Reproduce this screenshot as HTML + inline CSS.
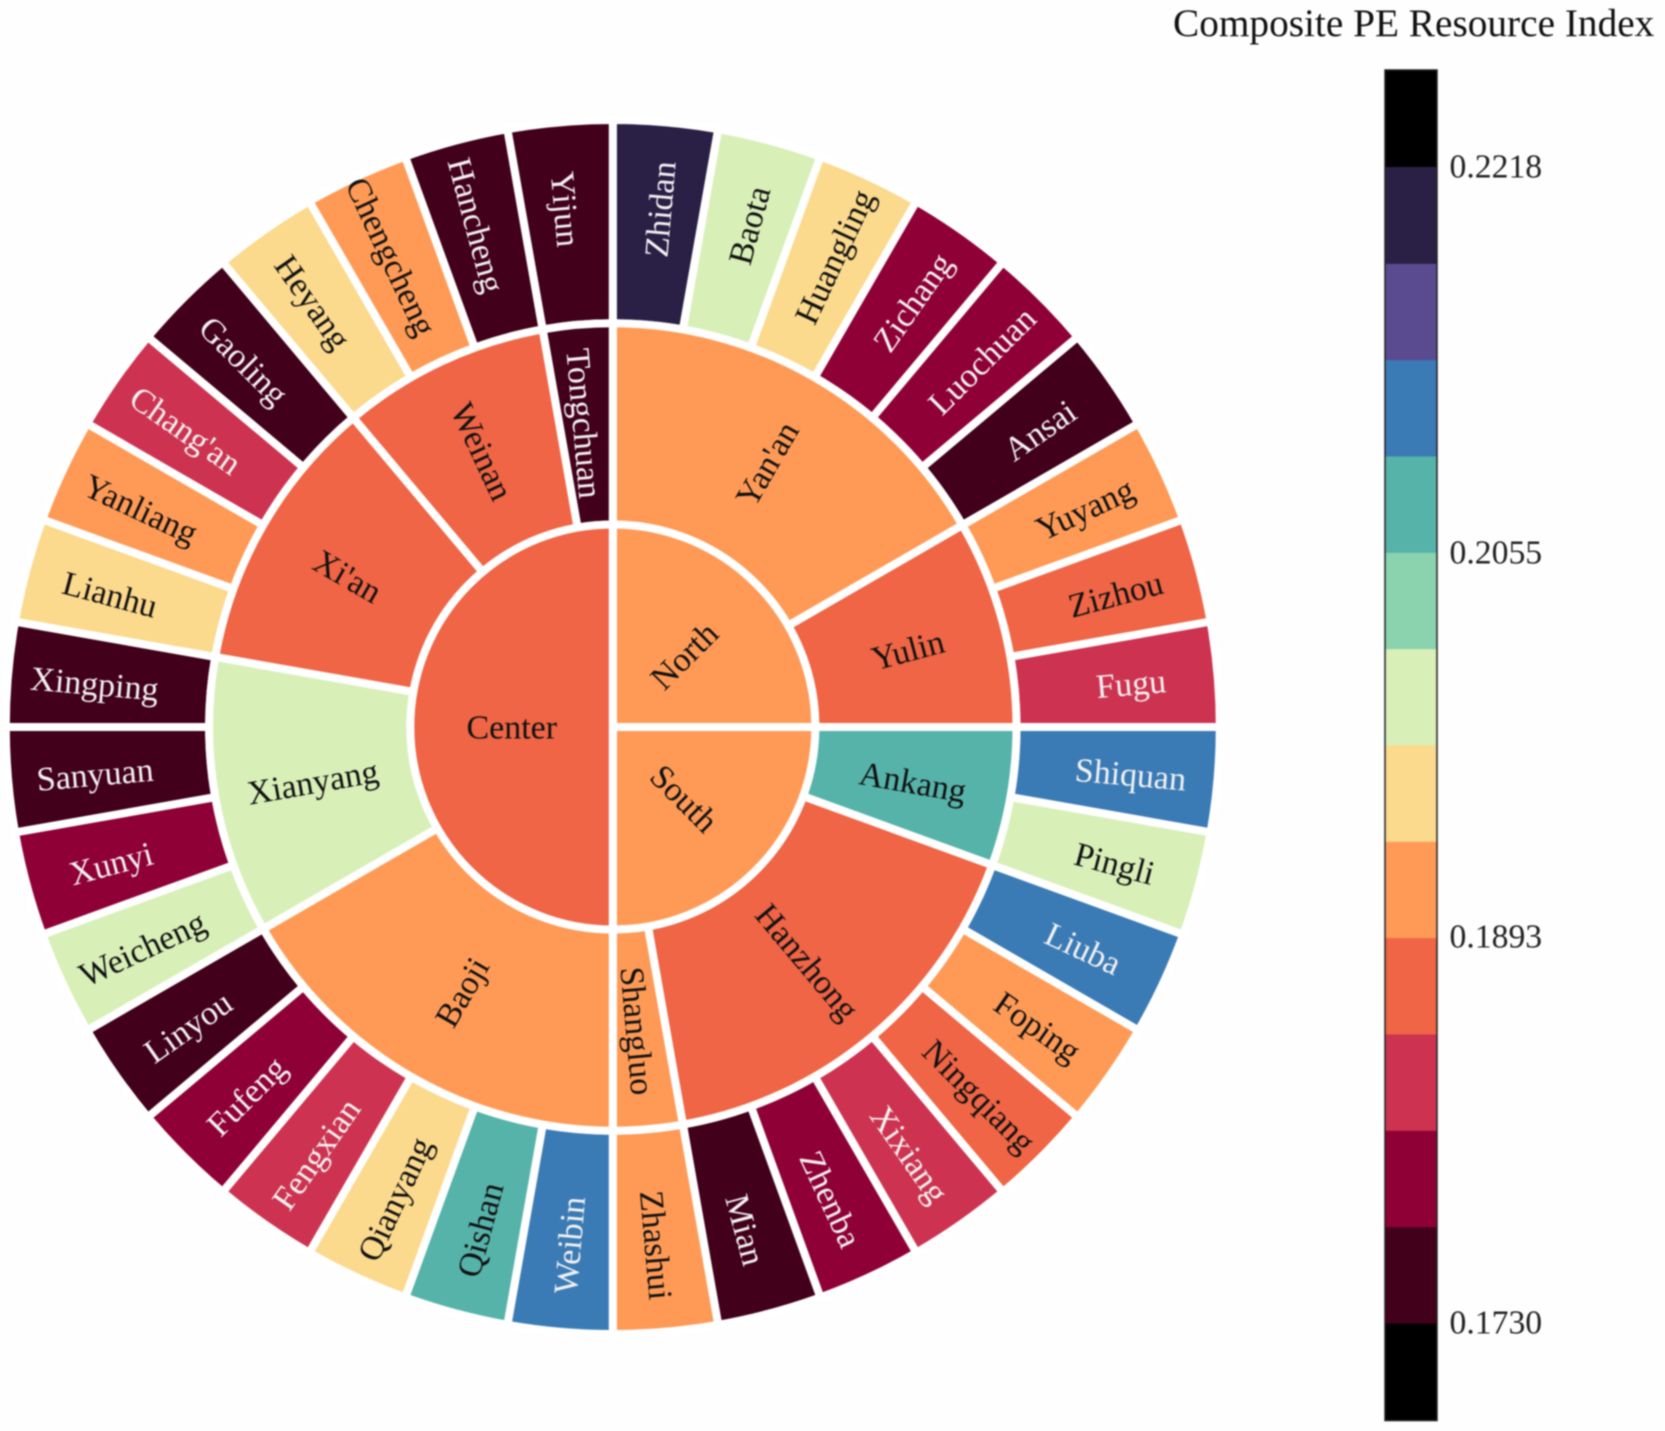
<!DOCTYPE html>
<html lang="en">
<head>
<meta charset="utf-8">
<title>Composite PE Resource Index sunburst</title>
<style>
html,body{margin:0;padding:0;background:#fefefe;}
#chart{display:block;width:1665px;height:1431px;filter:blur(0.8px);}
text{font-family:"Liberation Serif","Times New Roman",serif;}
</style>
</head>
<body>
<svg id="chart" xmlns="http://www.w3.org/2000/svg" width="1665" height="1431" viewBox="0 0 1665 1431">
  <g id="rings"></g>
  <g id="labels"></g>
  <text x="1173" y="36" font-size="39.3" fill="#111">Composite PE Resource Index</text>
  <g id="colorbar"></g>
</svg>
<script>
const zoneNames = ["North", "South", "Center"];
const zoneValues = [0.1913, 0.1913, 0.1872];

const regionNames = ["Yan'an", "Yulin", "Ankang", "Hanzhong", "Shangluo", "Baoji", "Xianyang", "Xi'an", "Weinan", "Tongchuan"];
const regionParents = ["North", "North", "South", "South", "South", "Center", "Center", "Center", "Center", "Center"];
const regionValues = [0.1913, 0.1872, 0.2075, 0.1872, 0.1913, 0.1913, 0.1994, 0.1872, 0.1872, 0.1750];

const countyNames = ["Zhidan", "Baota", "Huangling", "Zichang", "Luochuan", "Ansai", "Yuyang", "Zizhou", "Fugu",
  "Shiquan", "Pingli", "Liuba", "Foping", "Ningqiang", "Xixiang", "Zhenba", "Mian", "Zhashui",
  "Weibin", "Qishan", "Qianyang", "Fengxian", "Fufeng", "Linyou", "Weicheng", "Xunyi", "Sanyuan", "Xingping",
  "Lianhu", "Yanliang", "Chang'an", "Gaoling", "Heyang", "Chengcheng", "Hancheng", "Yijun"];
const countyParents = ["Yan'an", "Yan'an", "Yan'an", "Yan'an", "Yan'an", "Yan'an", "Yulin", "Yulin", "Yulin",
  "Ankang", "Ankang", "Hanzhong", "Hanzhong", "Hanzhong", "Hanzhong", "Hanzhong", "Hanzhong", "Shangluo",
  "Baoji", "Baoji", "Baoji", "Baoji", "Baoji", "Baoji", "Xianyang", "Xianyang", "Xianyang", "Xianyang",
  "Xi'an", "Xi'an", "Xi'an", "Xi'an", "Weinan", "Weinan", "Weinan", "Tongchuan"];
const countyValues = [0.2197, 0.1994, 0.1954, 0.1791, 0.1791, 0.1750, 0.1913, 0.1872, 0.1832,
  0.2116, 0.1994, 0.2116, 0.1913, 0.1872, 0.1832, 0.1791, 0.1750, 0.1913,
  0.2116, 0.2075, 0.1954, 0.1832, 0.1791, 0.1750, 0.1994, 0.1791, 0.1750, 0.1750,
  0.1954, 0.1913, 0.1832, 0.1750, 0.1954, 0.1913, 0.1750, 0.1750];

const colorbarTicks = [0.1730, 0.1893, 0.2055, 0.2218];
const binColors = ["#42001a", "#8f0136", "#cd3350", "#ef6545", "#fe9a56", "#fbd98d", "#d8efb8", "#8ad3ae", "#56b3aa", "#3b7bb5", "#5a4a90", "#2a1f45"];
const lightTextBins = [0, 1, 2, 9, 10, 11];

const SVG_NS = "http://www.w3.org/2000/svg";
const CX = 612.8, CY = 727;
const R_INNER = 202.5, R_MID = 403.7, R_OUTER = 607;
const GAP = 8;
const LABEL_R_ZONE = 101, LABEL_R_REGION = 305, LABEL_R_COUNTY = 520;
const LABEL_DY = 3, LABEL_DY_ZONE = 1;
const V_MIN = colorbarTicks[0];
const V_MAX = colorbarTicks[colorbarTicks.length - 1];
const BIN_STEP = (V_MAX - V_MIN) / binColors.length;

function angleOf(count) { return count / countyNames.length * 360; }
function polar(r, deg) {
  const a = deg * Math.PI / 180;
  return [CX + r * Math.sin(a), CY - r * Math.cos(a)];
}
function binOf(v) {
  return Math.max(0, Math.min(binColors.length - 1, Math.floor((v - V_MIN) / BIN_STEP)));
}
function colorbarY(v) {
  return 1323 - (v - V_MIN) / (V_MAX - V_MIN) * (1323 - 167);
}
function wedgePath(r0, r1, a0, a1) {
  const large = a1 - a0 > 180 ? 1 : 0;
  const p1 = polar(r1, a0), p2 = polar(r1, a1);
  if (r0 === 0) {
    return "M" + CX + " " + CY + "L" + p1[0] + " " + p1[1] + "A" + r1 + " " + r1 + " 0 " + large + " 1 " + p2[0] + " " + p2[1] + "Z";
  }
  const p3 = polar(r0, a1), p4 = polar(r0, a0);
  return "M" + p1[0] + " " + p1[1] + "A" + r1 + " " + r1 + " 0 " + large + " 1 " + p2[0] + " " + p2[1] +
    "L" + p3[0] + " " + p3[1] + "A" + r0 + " " + r0 + " 0 " + large + " 0 " + p4[0] + " " + p4[1] + "Z";
}
function slug(s) { return s.toLowerCase().replace(/[^a-z0-9]+/g, "-"); }

const ringGroup = document.getElementById("rings");
const labelGroup = document.getElementById("labels");

function drawSector(name, value, r0, r1, labelR, labelDy, a0, a1) {
  const bin = binOf(value);
  const path = document.createElementNS(SVG_NS, "path");
  path.setAttribute("d", wedgePath(r0, r1, a0, a1));
  path.setAttribute("fill", binColors[bin]);
  path.setAttribute("stroke", "#ffffff");
  path.setAttribute("stroke-width", GAP);
  
  
  ringGroup.appendChild(path);

  const mid = (a0 + a1) / 2;
  const pos = polar(labelR, mid);
  let rot = mid - 90;
  if (mid > 180) rot = mid - 270;
  const label = document.createElementNS(SVG_NS, "text");
  label.textContent = name;
  label.setAttribute("x", pos[0]);
  label.setAttribute("y", pos[1] + labelDy);
  label.setAttribute("text-anchor", "middle");
  label.setAttribute("dominant-baseline", "central");
  label.setAttribute("font-size", "34");
  label.setAttribute("fill", lightTextBins.includes(bin) ? "#f2f2f2" : "#111111");
  label.setAttribute("transform", "rotate(" + rot + " " + pos[0] + " " + pos[1] + ")");
  
  
  labelGroup.appendChild(label);
}

function spanOf(parents, key, start) {
  let n = 0;
  parents.forEach(function (p) { if (p === key) n += 1; });
  return [start, start + n];
}

// outermost ring: one equal slice per county
countyNames.forEach(function (name, i) {
  drawSector(name, countyValues[i], R_MID, R_OUTER, LABEL_R_COUNTY, LABEL_DY, angleOf(i), angleOf(i + 1));
});

// middle ring: spans the counties of each region
let regionCursor = 0;
const regionSpans = {};
regionNames.forEach(function (name, i) {
  const span = spanOf(countyParents, name, regionCursor);
  regionSpans[name] = span;
  drawSector(name, regionValues[i], R_INNER, R_MID, LABEL_R_REGION, LABEL_DY, angleOf(span[0]), angleOf(span[1]));
  regionCursor = span[1];
});

// inner disk: spans the counties of each zone
let zoneCursor = 0;
zoneNames.forEach(function (name, i) {
  let n = 0;
  regionNames.forEach(function (r, j) {
    if (regionParents[j] === name) n += regionSpans[r][1] - regionSpans[r][0];
  });
  drawSector(name, zoneValues[i], 0, R_INNER, LABEL_R_ZONE, LABEL_DY_ZONE, angleOf(zoneCursor), angleOf(zoneCursor + n));
  zoneCursor += n;
});

// colorbar
const cb = document.getElementById("colorbar");
const CB_X = 1385, CB_W = 52, CB_TOP = 70, CB_BOTTOM = 1420.5;

const cbBack = document.createElementNS(SVG_NS, "rect");
cbBack.setAttribute("x", CB_X);
cbBack.setAttribute("y", CB_TOP);
cbBack.setAttribute("width", CB_W);
cbBack.setAttribute("height", CB_BOTTOM - CB_TOP);
cbBack.setAttribute("fill", "#000000");


cb.appendChild(cbBack);

binColors.forEach(function (c, i) {
  const top = colorbarY(V_MIN + (i + 1) * BIN_STEP);
  const bottom = colorbarY(V_MIN + i * BIN_STEP);
  const seg = document.createElementNS(SVG_NS, "rect");
  seg.setAttribute("x", CB_X);
  seg.setAttribute("y", top);
  seg.setAttribute("width", CB_W);
  seg.setAttribute("height", bottom - top + 0.5);
  seg.setAttribute("fill", c);
  
  
  cb.appendChild(seg);
});

const cbOutline = document.createElementNS(SVG_NS, "rect");
cbOutline.setAttribute("x", CB_X);
cbOutline.setAttribute("y", CB_TOP);
cbOutline.setAttribute("width", CB_W);
cbOutline.setAttribute("height", CB_BOTTOM - CB_TOP);
cbOutline.setAttribute("fill", "none");
cbOutline.setAttribute("stroke", "#222222");
cbOutline.setAttribute("stroke-width", "1.5");


cb.appendChild(cbOutline);

colorbarTicks.forEach(function (t) {
  const tick = document.createElementNS(SVG_NS, "text");
  tick.textContent = t.toFixed(4);
  tick.setAttribute("x", 1449.5);
  tick.setAttribute("y", colorbarY(t));
  tick.setAttribute("dominant-baseline", "central");
  tick.setAttribute("font-size", "33.7");
  tick.setAttribute("fill", "#222222");
  
  
  cb.appendChild(tick);
});
</script>
</body>
</html>
